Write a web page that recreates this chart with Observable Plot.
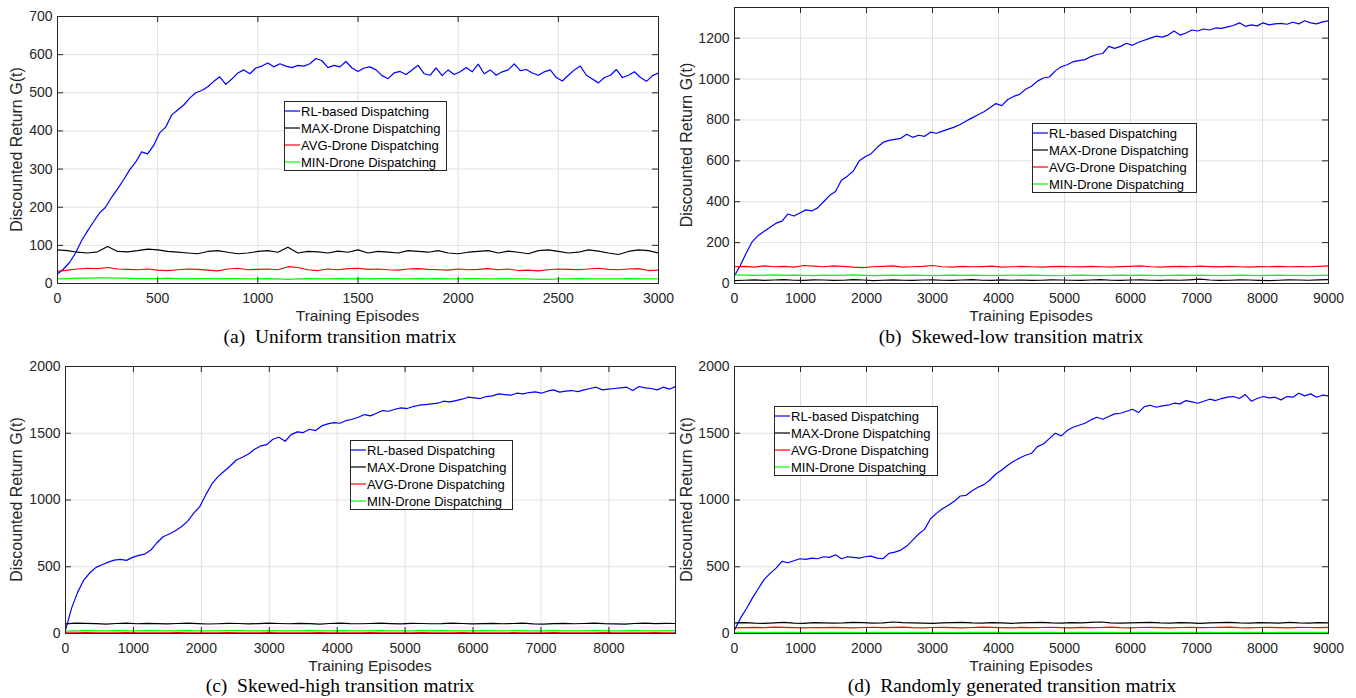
<!DOCTYPE html>
<html>
<head>
<meta charset="utf-8">
<script src="https://cdn.jsdelivr.net/npm/d3@7"></script>
<script src="https://cdn.jsdelivr.net/npm/@observablehq/plot@0.6"></script>
<style>
  html, body { margin: 0; padding: 0; background: #fff; }
  #fig { position: relative; width: 1356px; height: 698px; overflow: hidden; background: #fff; }
  #fig > svg.panel { position: absolute; }
  #overlay { position: absolute; left: 0; top: 0; pointer-events: none; }
</style>
</head>
<body>
<div id="fig"></div>
<script>
// ---------------- DATA ----------------
const seriesNames = ["RL-based Dispatching", "MAX-Drone Dispatching", "AVG-Drone Dispatching", "MIN-Drone Dispatching"];
const seriesColors = ["#0000ff", "#000000", "#ff0000", "#00ff00"];
const xLabel = "Training Episodes";
const yLabel = "Discounted Return G(t)";

// (a) Uniform transition matrix, episodes 0..3000
const captionA = "(a)\u00a0\u00a0Uniform transition matrix";
const xTicksA = [0, 500, 1000, 1500, 2000, 2500, 3000];
const yTicksA = [0, 100, 200, 300, 400, 500, 600, 700];
const rlA = [25,38,55,80,112,138,162,185,200,226,
  248,272,298,318,345,340,362,395,410,442,
  455,468,486,500,506,516,530,542,522,536,
  552,560,550,565,570,578,568,576,570,566,
  572,570,576,590,584,566,572,568,582,565,
  556,565,568,560,545,537,552,556,548,560,
  572,550,546,565,545,560,548,555,566,555,
  575,550,560,546,555,560,576,558,561,552,
  546,555,560,540,531,546,560,570,546,536,
  526,540,546,561,540,546,555,540,530,545,
  552];
const maxA = [88,86,82,80,83,97,84,83,86,90,
  88,84,82,80,78,84,86,82,78,80,
  84,86,82,95,80,84,83,80,85,82,
  88,80,84,82,80,86,84,82,86,80,
  78,82,84,86,80,85,82,78,86,88,
  84,80,82,88,85,80,76,84,88,86,
  80];
const avgA = [32,35,38,40,39,42,38,37,36,38,
  35,34,36,38,37,35,33,38,40,36,
  37,38,36,44,42,36,34,38,36,39,
  40,37,38,36,35,38,39,37,36,35,
  38,36,37,39,36,38,34,35,33,36,
  38,37,36,38,40,37,36,38,39,34,
  35];
const minA = [12,13,14,14,15,15,14,14,13,13,
  13,14,13,12,13,13,12,13,13,12,
  12,13,12,11,12,13,12,12,13,12,
  13,12,13,13,12,12,13,12,13,12,
  12,13,13,12,12,13,12,12,11,11,
  12,12,13,12,12,12,12,13,12,12,
  12];

// (b) Skewed-low transition matrix, episodes 0..9000
const captionB = "(b)\u00a0\u00a0Skewed-low transition matrix";
const xTicksB = [0, 1000, 2000, 3000, 4000, 5000, 6000, 7000, 8000, 9000];
const yTicksB = [0, 200, 400, 600, 800, 1000, 1200];
const rlB = [38,90,150,205,235,255,275,295,305,340,
  330,345,360,355,370,400,430,450,505,525,
  550,600,620,635,665,690,700,705,710,730,
  715,725,720,740,735,745,755,765,778,795,
  810,825,840,860,880,870,900,915,925,950,
  965,990,1005,1010,1040,1060,1070,1085,1090,1095,
  1110,1120,1125,1160,1150,1160,1175,1165,1180,1190,
  1200,1210,1205,1215,1235,1215,1225,1240,1235,1245,
  1240,1250,1248,1255,1262,1275,1258,1265,1260,1275,
  1265,1270,1272,1268,1278,1270,1285,1275,1270,1280,
  1285];
const maxB = [14,16,18,15,17,19,16,15,18,17,
  15,16,19,17,14,16,18,16,15,17,
  18,16,15,17,19,16,15,18,16,17,
  15,16,18,17,16,15,17,19,16,15,
  17,18,16,15,17,16,18,21,17,15,
  16,18,17,15,14,16,18,17,16,18,
  19];
const avgB = [82,84,80,86,82,84,80,88,85,82,
  86,84,80,78,82,84,86,80,82,84,
  88,82,80,84,82,83,85,80,82,84,
  82,80,83,84,82,81,84,82,80,83,
  84,86,82,80,83,84,82,85,83,81,
  84,82,80,83,82,84,82,83,82,84,
  86];
const minB = [42,41,40,41,42,40,41,40,39,41,
  40,41,42,40,39,40,41,40,41,40,
  39,40,41,40,41,40,39,40,41,40,
  41,40,39,38,40,41,40,39,40,41,
  40,41,40,39,40,41,40,41,40,39,
  40,41,40,39,40,41,40,40,39,40,
  41];

// (c) Skewed-high transition matrix, episodes 0..8980
const captionC = "(c)\u00a0\u00a0Skewed-high transition matrix";
const xTicksC = [0, 1000, 2000, 3000, 4000, 5000, 6000, 7000, 8000];
const yTicksC = [0, 500, 1000, 1500, 2000];
const rlC = [25,190,310,400,455,495,515,535,550,555,
  548,570,585,595,625,680,725,745,770,800,
  840,900,950,1040,1120,1175,1215,1255,1300,1320,
  1345,1380,1405,1415,1455,1470,1440,1490,1510,1505,
  1530,1520,1555,1570,1580,1575,1595,1605,1620,1640,
  1630,1650,1670,1665,1680,1690,1685,1700,1710,1715,
  1720,1725,1740,1735,1745,1755,1770,1765,1760,1775,
  1780,1795,1790,1785,1800,1795,1805,1810,1800,1815,
  1825,1808,1815,1820,1812,1825,1835,1845,1825,1830,
  1835,1840,1845,1820,1850,1840,1835,1825,1845,1830,
  1850];
const maxC = [72,78,76,74,70,75,77,73,76,74,
  72,75,78,74,71,73,76,75,72,74,
  77,75,73,76,74,70,75,78,74,73,
  75,77,74,72,76,75,73,74,78,75,
  72,74,76,73,75,77,72,70,74,76,
  73,75,78,74,72,70,75,77,74,76,
  75];
const avgC = [4,5,6,5,4,5,6,5,4,5,
  5,6,5,4,5,5,6,5,4,5,
  6,5,5,4,5,6,5,4,5,5,
  6,5,4,5,5,6,5,4,5,6,
  5,4,5,5,6,5,4,5,6,5,
  5,4,5,6,5,5,4,5,6,5,
  5];
const minC = [18,20,21,19,20,22,20,19,21,20,
  19,20,21,20,19,20,22,21,19,20,
  21,20,19,20,21,19,20,21,20,19,
  20,21,20,19,20,21,20,22,20,19,
  20,21,19,20,21,20,19,20,21,20,
  19,20,21,20,19,20,21,20,19,20,
  21];

// (d) Randomly generated transition matrix, episodes 0..9000
const captionD = "(d)\u00a0\u00a0Randomly generated transition matrix";
const xTicksD = [0, 1000, 2000, 3000, 4000, 5000, 6000, 7000, 8000, 9000];
const yTicksD = [0, 500, 1000, 1500, 2000];
const rlD = [25,115,185,265,335,405,450,490,540,530,
  545,560,555,565,560,575,570,590,560,575,
  570,565,575,580,565,560,600,610,625,655,
  700,745,780,860,900,935,960,990,1030,1035,
  1070,1095,1115,1150,1195,1225,1260,1290,1315,1335,
  1350,1400,1420,1460,1500,1480,1520,1545,1560,1575,
  1600,1620,1605,1625,1645,1650,1665,1680,1655,1700,
  1710,1695,1705,1710,1725,1720,1745,1735,1725,1740,
  1755,1745,1760,1770,1775,1760,1790,1740,1760,1775,
  1765,1770,1750,1775,1770,1800,1780,1795,1770,1785,
  1780];
const maxD = [80,82,78,76,80,84,78,76,82,80,
  78,80,84,82,78,80,86,82,80,78,
  76,80,82,84,80,78,82,80,76,80,
  82,84,80,78,82,80,84,86,80,78,
  80,82,84,80,78,82,80,76,80,82,
  84,80,78,82,80,78,84,80,78,82,
  80];
const avgD = [42,44,46,44,48,46,44,42,45,44,
  46,44,42,45,47,44,46,48,44,42,
  45,46,44,42,45,48,46,44,42,46,
  44,45,47,44,42,46,44,45,48,44,
  42,45,46,44,42,45,47,44,45,46,
  48,44,42,45,46,44,42,46,45,44,
  46];
const minD = [8,9,8,7,8,9,8,8,7,8,
  9,8,8,7,8,9,8,7,8,8,
  9,8,7,8,8,9,8,8,7,8,
  8,9,8,7,8,8,9,8,8,7,
  8,9,8,8,7,8,9,8,8,7,
  8,8,9,8,7,8,8,9,8,8,
  8];

// ---------------- LAYOUT ----------------
const panels = [
  { svg: {left: 0, top: 0, width: 680, height: 310}, frame: {l: 57, t: 16, r: 658, b: 283},
    xMax: 3000, yMax: 700, xTicks: xTicksA, yTicks: yTicksA, series: [rlA, maxA, avgA, minA],
    caption: captionA, capX: 340, capY: 343, xlabY: 320.5, ylabX: 22,
    legend: {x: 284, y: 101, w: 162} },
  { svg: {left: 680, top: 0, width: 676, height: 310}, frame: {l: 734, t: 7, r: 1328, b: 283},
    xMax: 9000, yMax: 1350, xTicks: xTicksB, yTicks: yTicksB, series: [rlB, maxB, avgB, minB],
    caption: captionB, capX: 1011, capY: 343, xlabY: 320.5, ylabX: 692,
    legend: {x: 1032, y: 123, w: 164} },
  { svg: {left: 0, top: 350, width: 680, height: 310}, frame: {l: 65, t: 366, r: 675, b: 633},
    xMax: 8980, yMax: 2000, xTicks: xTicksC, yTicks: yTicksC, series: [rlC, maxC, avgC, minC],
    caption: captionC, capX: 340, capY: 692, xlabY: 670.5, ylabX: 22,
    legend: {x: 350, y: 440, w: 162} },
  { svg: {left: 680, top: 350, width: 676, height: 310}, frame: {l: 734, t: 366, r: 1328, b: 633},
    xMax: 9000, yMax: 2000, xTicks: xTicksD, yTicks: yTicksD, series: [rlD, maxD, avgD, minD],
    caption: captionD, capX: 1012, capY: 692, xlabY: 670.5, ylabX: 692,
    legend: {x: 774, y: 406, w: 163} }
];

const fig = document.getElementById("fig");
const axisColor = "#262626";
const gridColor = "#e1e1e1";
const sans = "'Liberation Sans', Arial, Helvetica, sans-serif";
const serif = "'Liberation Serif', 'Times New Roman', serif";
const tickLen = 6;
const fmt = d => String(d);

for (const p of panels) {
  const s = p.svg, f = p.frame;
  const mL = f.l - s.left, mT = f.t - s.top;
  const mR = s.left + s.width - f.r, mB = s.top + s.height - f.b;
  const plotW = f.r - f.l, plotH = f.b - f.t;
  const lines = p.series.map((vals, k) => Plot.line(vals, {
    x: (d, i) => i * p.xMax / (vals.length - 1),
    y: d => d,
    stroke: seriesColors[k],
    strokeWidth: 1.2,
    clip: true
  }));
  const chart = Plot.plot({
    width: s.width, height: s.height,
    marginLeft: mL, marginRight: mR, marginTop: mT, marginBottom: mB,
    x: {domain: [0, p.xMax]},
    y: {domain: [0, p.yMax]},
    style: {fontFamily: sans, fontSize: "14px", color: axisColor, background: "transparent", overflow: "visible"},
    marks: [
      Plot.ruleX(p.xTicks, {stroke: gridColor, strokeWidth: 1}),
      Plot.ruleY(p.yTicks, {stroke: gridColor, strokeWidth: 1}),
      ...lines,
      Plot.ruleX(p.xTicks, {stroke: axisColor, insetTop: plotH - tickLen}),
      Plot.ruleX(p.xTicks, {stroke: axisColor, insetBottom: plotH - tickLen}),
      Plot.ruleY(p.yTicks, {stroke: axisColor, insetRight: plotW - tickLen}),
      Plot.ruleY(p.yTicks, {stroke: axisColor, insetLeft: plotW - tickLen}),
      Plot.frame({stroke: axisColor, strokeWidth: 1}),
      Plot.axisX(p.xTicks, {tickSize: 0, tickPadding: 10, tickFormat: fmt, label: null, fill: axisColor}),
      Plot.axisY(p.yTicks, {tickSize: 0, tickPadding: 5, tickFormat: fmt, label: null, fill: axisColor})
    ]
  });
  chart.classList.add("panel");
  chart.style.left = s.left + "px";
  chart.style.top = s.top + "px";
  fig.appendChild(chart);
}

// ---------------- OVERLAY: axis labels, captions, legends ----------------
const ov = d3.select(fig).append("svg").attr("id", "overlay")
  .attr("width", 1356).attr("height", 698);

for (const p of panels) {
  const f = p.frame;
  const cx = (f.l + f.r) / 2, cy = (f.t + f.b) / 2;
  ov.append("text").attr("x", cx).attr("y", p.xlabY)
    .attr("text-anchor", "middle").attr("font-family", sans).attr("font-size", 15.5)
    .attr("fill", axisColor).text(xLabel);
  ov.append("text").attr("x", p.ylabX).attr("y", cy)
    .attr("transform", `rotate(-90 ${p.ylabX} ${cy})`)
    .attr("text-anchor", "middle").attr("font-family", sans).attr("font-size", 16)
    .attr("fill", axisColor).text(yLabel);
  ov.append("text").attr("x", p.capX).attr("y", p.capY)
    .attr("text-anchor", "middle").attr("font-family", serif).attr("font-size", 19.5)
    .attr("fill", "#000").text(p.caption);

  const L = p.legend, rowH = 17;
  const g = ov.append("g");
  g.append("rect").attr("x", L.x + 0.5).attr("y", L.y + 0.5)
    .attr("width", L.w).attr("height", rowH * 4 + 1)
    .attr("fill", "#fff").attr("stroke", axisColor).attr("stroke-width", 1);
  seriesNames.forEach((name, i) => {
    const yy = L.y + 10 + i * rowH;
    g.append("line").attr("x1", L.x + 1).attr("x2", L.x + 16)
      .attr("y1", yy).attr("y2", yy)
      .attr("stroke", seriesColors[i]).attr("stroke-width", 1.2);
    g.append("text").attr("x", L.x + 17).attr("y", yy + 4.6)
      .attr("font-family", sans).attr("font-size", 13).attr("fill", "#000").text(name);
  });
}
</script>
</body>
</html>
